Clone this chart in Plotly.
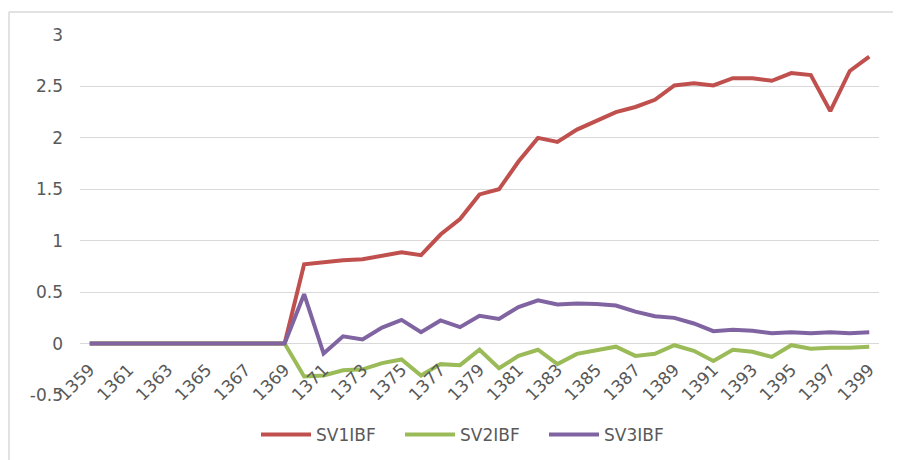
import plotly.graph_objects as go

years = list(range(1359, 1400))
sv1 = [0]*11 + [0.77, 0.79, 0.81, 0.82, 0.855, 0.887, 0.86, 1.06, 1.21, 1.45, 1.5,
                1.77, 2.0, 1.96, 2.08, 2.17, 2.25, 2.30, 2.37, 2.51, 2.53, 2.51,
                2.58, 2.58, 2.555, 2.63, 2.61, 2.26, 2.65, 2.79]
sv2 = [0]*11 + [-0.32, -0.31, -0.26, -0.25, -0.19, -0.155, -0.31, -0.2, -0.21, -0.06,
                -0.24, -0.12, -0.06, -0.2, -0.1, -0.065, -0.03, -0.12, -0.1, -0.016,
                -0.07, -0.17, -0.06, -0.08, -0.13, -0.016, -0.05, -0.04, -0.04, -0.03]
sv3 = [0]*11 + [0.48, -0.097, 0.07, 0.04, 0.155, 0.23, 0.11, 0.225, 0.16, 0.27,
                0.24, 0.355, 0.42, 0.38, 0.39, 0.385, 0.37, 0.31, 0.265, 0.25,
                0.195, 0.12, 0.135, 0.125, 0.10, 0.11, 0.10, 0.11, 0.10, 0.11]
names = ["SV1IBF", "SV2IBF", "SV3IBF"]
colors = ["#C0504D", "#9BBB59", "#8064A2"]
xtick_vals = list(range(1359, 1400, 2))
ytick_vals = [-0.5, 0, 0.5, 1, 1.5, 2, 2.5, 3]

fig = go.Figure()
for name, vals, c in zip(names, [sv1, sv2, sv3], colors):
    fig.add_trace(go.Scatter(x=years, y=vals, name=name, mode="lines",
                             line=dict(color=c, width=4)))

font_color = "#595959"
W, H = 893, 452
L, R, T, B = 72, 22, 27, 65
PW, PH = W - L - R, H - T - B
border = dict(color="#D9D9D9", width=1.5)
fig.update_layout(
    width=W, height=H,
    paper_bgcolor="white", plot_bgcolor="white",
    margin=dict(l=L, r=R, t=T, b=B, autoexpand=False),
    font=dict(family="DejaVu Sans, sans-serif", size=17, color=font_color),
    showlegend=True,
    legend=dict(orientation="h", x=(248 - L) / PW, xanchor="left",
                y=-40 / PH, yanchor="middle",
                font=dict(size=17, color=font_color), traceorder="normal",
                entrywidth=79, entrywidthmode="pixels", itemwidth=50),
    xaxis=dict(range=[1358.5, 1399.5], tickvals=xtick_vals,
               ticktext=[str(v) for v in xtick_vals], tickangle=-45,
               showgrid=False, zeroline=False, showline=False, automargin=False,
               anchor="free", position=0.5/3.5, ticks="", ticklabelstandoff=12),
    yaxis=dict(range=[-0.5, 3], tickvals=ytick_vals,
               ticktext=["-0.5", "0", "0.5", "1", "1.5", "2", "2.5", "3"],
               showgrid=True, gridcolor="#D9D9D9", gridwidth=1.3, automargin=False,
               zeroline=False, showline=False, ticklabelstandoff=16),
    shapes=[
        dict(type="line", xref="paper", yref="paper",
             x0=(1 - L) / PW, x1=(W - L) / PW, y0=1 + (T - 4) / PH, y1=1 + (T - 4) / PH,
             line=border),
        dict(type="line", xref="paper", yref="paper",
             x0=(1 - L) / PW, x1=(1 - L) / PW, y0=-B / PH, y1=1 + (T - 4) / PH,
             line=border),
    ],
)
fig.write_html("out.html")
